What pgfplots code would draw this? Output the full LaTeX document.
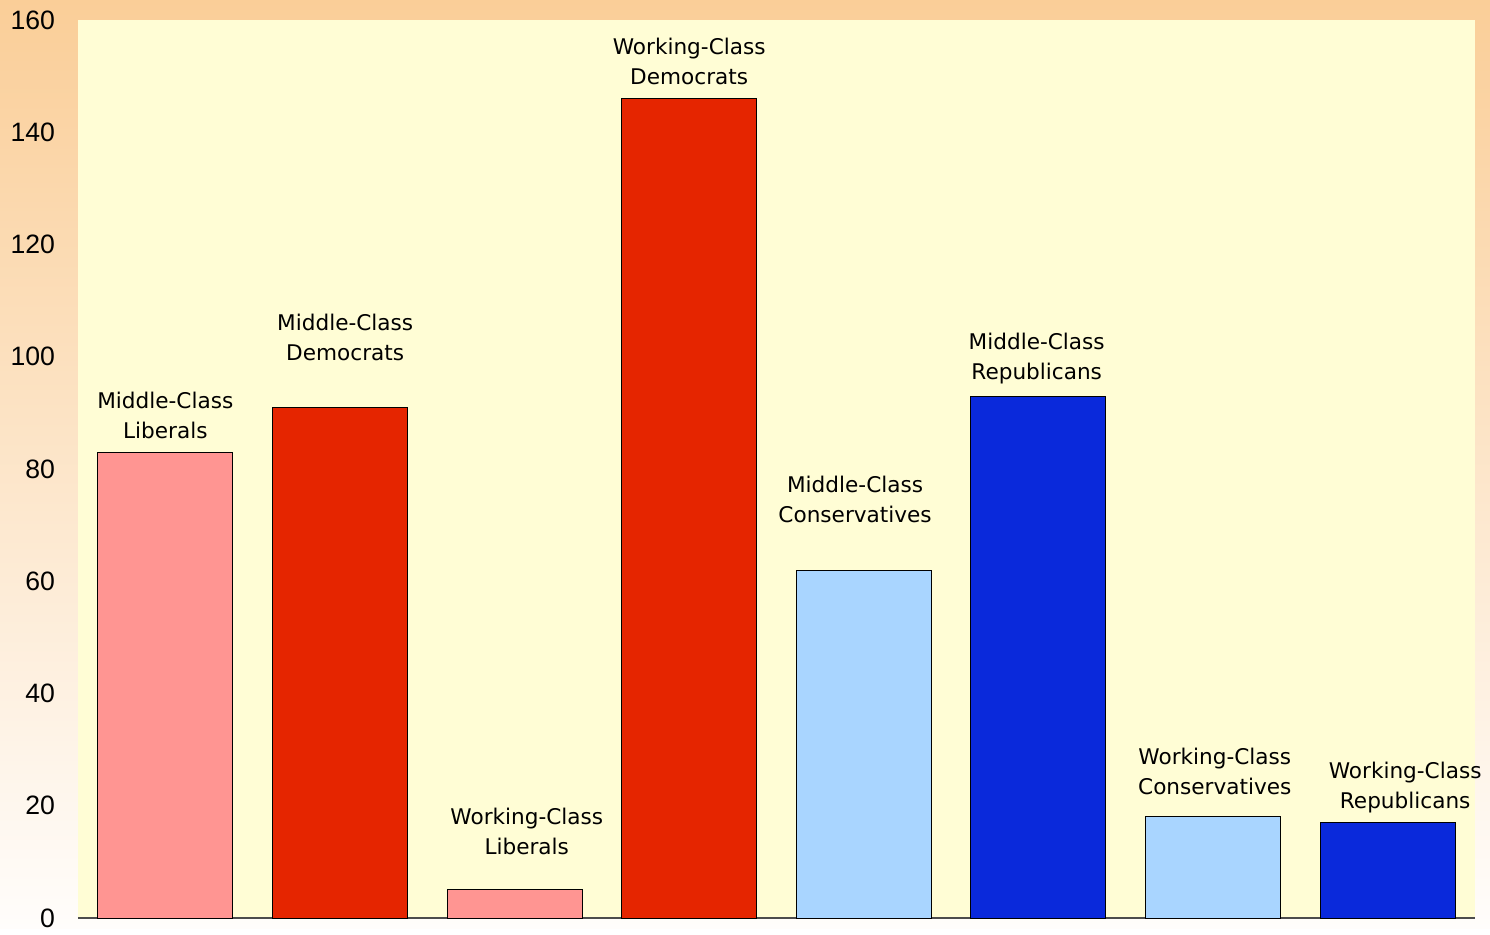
\documentclass[border=0pt]{standalone}
\usepackage{fontspec}
\setmainfont{Liberation Sans}
\newfontfamily\labelfont{DejaVu Sans}
\usepackage{pgfplots}
\pgfplotsset{compat=1.18}
\definecolor{bgtop}{HTML}{FACE98}
\definecolor{bgbot}{HTML}{FFFDFB}
\definecolor{plotbg}{HTML}{FFFDD5}
\definecolor{lred}{HTML}{FF9592}
\definecolor{dred}{HTML}{E52500}
\definecolor{lblue}{HTML}{A9D5FF}
\definecolor{dblue}{HTML}{0A29DB}
\begin{document}
\begin{tikzpicture}
\shade[top color=bgtop, bottom color=bgbot] (0,0) rectangle (745pt,464pt);
\begin{axis}[
    at={(39pt,5pt)}, anchor=south west,
    scale only axis, width=698.5pt, height=449pt,
    xmin=0.5, xmax=8.5, ymin=0, ymax=160,
    ytick={0,20,...,160}, xtick=\empty,
    axis lines*=left,
    y axis line style={draw=none},
    x axis line style={draw=black!70, line width=1pt},
    major tick length=0pt,
    yticklabel shift=8pt,
    /pgf/number format/assume math mode=true,
    tick label style={font=\fontsize{13.3}{15}\selectfont},
    axis background/.style={fill=plotbg},
    ybar, bar width=0.773, bar shift=0pt,
    clip=false,
  ]
  \addplot[fill=lred, draw=black, line width=0.5pt] coordinates {(1,83) (3,5)};
  \addplot[fill=dred, draw=black, line width=0.5pt] coordinates {(2,91) (4,146)};
  \addplot[fill=lblue, draw=black, line width=0.5pt] coordinates {(5,62) (7,18)};
  \addplot[fill=dblue, draw=black, line width=0.5pt] coordinates {(6,93) (8,17)};
  \begin{scope}[every node/.style={align=center, font=\labelfont\fontsize{10.8}{15}\selectfont, inner sep=0pt}]
  \node at (axis cs:1.00,89.6) {Middle-Class\\Liberals};
  \node at (axis cs:2.03,103.5) {Middle-Class\\Democrats};
  \node at (axis cs:3.07,15.5) {Working-Class\\Liberals};
  \node at (axis cs:4.00,152.7) {Working-Class\\Democrats};
  \node at (axis cs:4.95,74.6) {Middle-Class\\Conservatives};
  \node at (axis cs:5.99,99.6) {Middle-Class\\Republicans};
  \node at (axis cs:7.01,26.2) {Working-Class\\Conservatives};
  \node at (axis cs:8.10,23.3) {Working-Class\\Republicans};
  \end{scope}
\end{axis}
\end{tikzpicture}
\end{document}
